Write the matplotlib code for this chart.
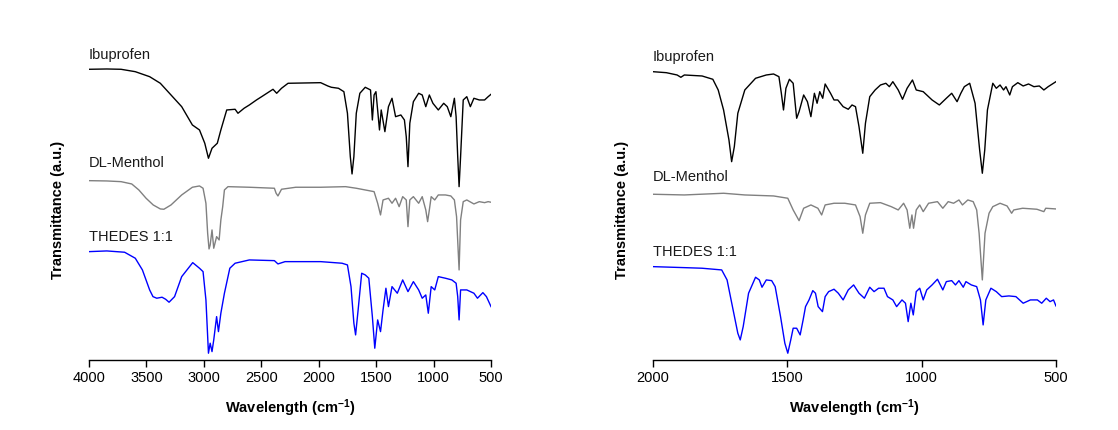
import matplotlib.pyplot as plt

plt.rcParams['font.family'] = ['Liberation Sans', 'DejaVu Sans']
plt.rcParams['mathtext.default'] = 'regular'

# ---- full range spectra (4000-500 cm-1), transmittance in a.u. (stacked) ----
ibu_full_wn = [4000, 3845, 3721, 3597, 3472, 3379, 3286, 3193, 3100, 3038, 2992, 2960, 2929, 2883,
               2852, 2801, 2728, 2703, 2650, 2604, 2542, 2497, 2398, 2366, 2324, 2267, 1983, 1921, 1890,
               1828, 1781, 1750, 1725, 1710, 1694, 1673, 1642, 1595, 1549, 1533, 1518, 1502, 1471,
               1456, 1424, 1393, 1362, 1331, 1285, 1254, 1238, 1223, 1207, 1176, 1130, 1099, 1068,
               1037, 1006, 959, 912, 881, 850, 819, 804, 790, 778, 765, 742, 711, 680, 649, 602,
               556, 525, 500]
ibu_full_t = [290.7, 291, 290.7, 288.3, 283.3, 276.7, 265, 253.3, 235, 230, 216.7, 201.7, 211.7, 216.7,
              230, 250, 250.7, 246.7, 251.7, 255, 260, 263.3, 270.7, 266.7, 271.7, 276.7, 277.3, 274, 272.7,
              271.7, 268.3, 246.7, 203.3, 186, 203.3, 246.7, 266.7, 272.7, 270, 240, 265, 268.3, 230,
              250, 228.3, 253.3, 261.7, 243.3, 245, 240, 223.3, 193.3, 236.7, 258.3, 266.7, 265, 253.3,
              265, 256.7, 250, 256.7, 253.3, 243.3, 261.7, 243.3, 203.3, 173.3, 203.3, 260, 263.3, 253.3,
              261.7, 260, 260, 263.3, 265.7]

men_full_wn = [4000, 3845, 3721, 3628, 3566, 3503, 3441, 3379, 3348, 3286, 3193, 3100, 3038, 3007,
               2982, 2967, 2955, 2945, 2929, 2914, 2889, 2867, 2852, 2836, 2821, 2790, 2604, 2386, 2371,
               2355, 2324, 2200, 1983, 1766, 1673, 1518, 1487, 1462, 1440, 1393, 1362, 1331, 1300,
               1269, 1238, 1223, 1207, 1176, 1130, 1099, 1068, 1052, 1037, 1021, 990, 959, 897, 850,
               819, 800, 778, 765, 742, 711, 649, 602, 556, 525, 500]
men_full_t = [179.3, 179, 178.3, 176, 170, 161.7, 155, 151, 150.7, 155, 165, 172.7, 174, 171.7,
              156.7, 126.7, 111, 115, 130, 111.7, 123.3, 120, 140, 153.3, 170, 173.3, 172.7, 171.7, 166.7,
              164, 170.7, 172.7, 172.7, 173.3, 171.7, 168.3, 156.7, 145, 160, 161.7, 156.7, 161.7, 153.3,
              163.3, 160, 133.3, 160, 163.3, 156.7, 163.3, 150, 138.3, 150, 163.3, 160, 165, 165, 164,
              160, 143.3, 90, 140, 158.3, 160, 156, 158.3, 157.3, 158.3, 157.7]

thd_full_wn = [4000, 3845, 3690, 3597, 3535, 3472, 3443, 3410, 3364, 3333, 3303, 3255, 3193, 3097, 3038,
               3007, 2982, 2960, 2945, 2929, 2914, 2889, 2873, 2852, 2821, 2774, 2728, 2604, 2386,
               2355, 2293, 1983, 1797, 1750, 1719, 1694, 1679, 1657, 1626, 1595, 1564, 1533, 1512,
               1487, 1462, 1440, 1415, 1393, 1362, 1316, 1269, 1223, 1176, 1130, 1099, 1068, 1046,
               1021, 990, 959, 897, 841, 804, 790, 778, 765, 711, 649, 618, 571, 540, 500]
thd_full_t = [108.3, 109, 107.7, 101.7, 90, 70, 63.3, 61.7, 62.7, 60.7, 57.7, 63.3, 83.3, 97.3, 91.7,
              88.3, 60, 6.7, 16.7, 8.3, 20, 43.3, 28.3, 46.7, 66.7, 91.7, 96.7, 100, 99.3,
              96, 98.3, 98.3, 96.7, 95, 73.3, 36.7, 25, 50, 86.7, 85, 81.7, 43.3, 11.7,
              40, 28.3, 50, 71.7, 53.3, 73.3, 66.7, 80, 68.3, 78.3, 70, 61.7, 65, 46.7,
              73.3, 70, 83.3, 81.7, 80, 76.7, 63.3, 40, 70, 70, 66.7, 61.7, 67.3, 63.3, 53.3]

# ---- fingerprint region spectra (2000-500 cm-1) ----
ibu_fp_wn = [2000, 1950, 1910, 1896, 1883, 1817, 1777, 1757, 1737, 1717, 1707, 1697, 1684, 1658,
             1618, 1578, 1551, 1531, 1522, 1514, 1505, 1492, 1478, 1465, 1456, 1439, 1425, 1412,
             1399, 1389, 1379, 1368, 1359, 1339, 1326, 1312, 1292, 1273, 1259, 1246, 1233, 1219,
             1209, 1193, 1173, 1153, 1133, 1120, 1107, 1087, 1071, 1054, 1034, 1020, 994, 961,
             934, 908, 888, 868, 854, 841, 821, 801, 784, 774, 765, 755, 735, 722, 708, 695,
             686, 672, 662, 642, 622, 602, 582, 562, 545, 529, 500]
ibu_fp_t = [288.3, 287.3, 285, 282.7, 285, 284, 280.7, 270, 250, 220, 198.3, 213.3, 246.7, 270,
            281.7, 285, 286, 283.3, 266.7, 250, 271.7, 280.7, 276.7, 241.7, 248.3, 265, 258.3, 243.3,
            266.7, 256.7, 268.3, 261.7, 276, 266.7, 260, 260, 253.3, 250.7, 255, 253.3, 233.3, 206.7,
            236.7, 263.3, 270, 275, 276.7, 273.3, 278.3, 270, 260.7, 271.7, 280, 270, 268.3, 260,
            255, 261.7, 266.7, 258.3, 266.7, 273.3, 276.7, 256.7, 210, 186.7, 210, 250, 276.7, 271.7,
            275, 270, 273.3, 265, 273.3, 277.3, 274, 276, 273.3, 274, 270, 273.3, 278.3]

men_fp_wn = [2000, 1883, 1737, 1658, 1551, 1498, 1478, 1456, 1439, 1412, 1386, 1372, 1359, 1326,
             1286, 1246, 1229, 1219, 1209, 1193, 1153, 1113, 1087, 1067, 1054, 1044, 1036, 1030,
             1020, 1007, 994, 974, 941, 921, 901, 881, 861, 848, 828, 808, 795, 786, 774, 764,
             749, 735, 708, 682, 665, 657, 624, 571, 545, 538, 500]
men_fp_t = [165.7, 165, 166.7, 165, 164, 161.7, 150, 139.3, 151.7, 155, 151.7, 145, 155, 156.7,
            156.7, 155, 143.3, 126.7, 145, 156.7, 157.3, 153.3, 150, 156.7, 150, 131.7, 145, 131.7,
            150, 155, 148.3, 156.7, 158.3, 151.7, 158.3, 156.7, 160, 155, 160, 158.3, 150, 126.7, 80, 126.7,
            146.7, 153.3, 156.7, 154, 146.7, 150, 151.7, 150.7, 148.3, 151.7, 151]

thd_fp_wn = [2000, 1883, 1817, 1744, 1724, 1704, 1684, 1675, 1664, 1644, 1618, 1604, 1594, 1578,
             1558, 1545, 1525, 1509, 1498, 1487, 1478, 1465, 1452, 1441, 1432, 1419, 1405, 1395,
             1385, 1369, 1359, 1346, 1326, 1310, 1292, 1273, 1253, 1233, 1213, 1193, 1177, 1160,
             1140, 1127, 1107, 1093, 1073, 1060, 1050, 1040, 1031, 1020, 1007, 994, 981, 961, 941,
             921, 908, 888, 874, 861, 845, 835, 815, 795, 781, 771, 761, 742, 722, 702, 675, 649,
             622, 595, 569, 553, 536, 522, 509, 500]
thd_fp_t = [93.3, 92.3, 91.7, 90, 80, 53.3, 26.7, 20, 33.3, 66.7, 82.7, 80, 72.7, 80,
            79.3, 73.3, 43.3, 16.7, 6.7, 20, 31.7, 31.7, 25, 40, 53.3, 60, 69.3, 66.7,
            53.3, 48.3, 63.3, 68.3, 70.7, 66.7, 60, 70, 75, 66.7, 61.7, 72.7, 68.3, 71.7,
            71.7, 63.3, 60, 53.3, 60, 56.7, 38.3, 56.7, 45, 68.3, 71.7, 60, 70, 75, 80.7,
            70, 78.3, 79.3, 75, 79.3, 72.7, 78.3, 75, 73.3, 60, 35, 60, 71.7, 68.3, 63.3, 64, 63.3,
            56.7, 60, 60, 56.7, 61.7, 58.3, 60, 54]

names = ['Ibuprofen', 'DL-Menthol', 'THEDES 1:1']
colors = ['black', 'gray', 'blue']

full_ticks = [4000, 3500, 3000, 2500, 2000, 1500, 1000, 500]
fp_ticks = [2000, 1500, 1000, 500]

# label heights (a.u.) for each panel
full_label_y = [305, 197, 123]
fp_label_y = [303, 183, 108]

fig = plt.figure(figsize=(11.18, 4.30), dpi=100)
ax1 = fig.add_axes([0.0796, 0.163, 0.3596, 0.744])
ax2 = fig.add_axes([0.584, 0.163, 0.3605, 0.744])

panels = [
    (ax1, [(ibu_full_wn, ibu_full_t), (men_full_wn, men_full_t), (thd_full_wn, thd_full_t)],
     (4000, 500), full_ticks, full_label_y),
    (ax2, [(ibu_fp_wn, ibu_fp_t), (men_fp_wn, men_fp_t), (thd_fp_wn, thd_fp_t)],
     (2000, 500), fp_ticks, fp_label_y),
]

for ax, spectra, xlim, ticks, label_y in panels:
    for (wn, t), name, c, ly in zip(spectra, names, colors, label_y):
        ax.plot(wn, t, color=c, lw=1.0)
        ax.text(xlim[0], ly, name, fontsize=10.5, color='#1a1a1a', ha='left', va='center')
    ax.set_xlim(xlim)
    ax.set_ylim(0, 320)
    ax.set_xticks(ticks)
    ax.set_yticks([])
    for s in ['top', 'right', 'left']:
        ax.spines[s].set_visible(False)
    ax.spines['bottom'].set_linewidth(1.0)
    ax.tick_params(axis='x', direction='out', length=5, width=1, labelsize=10.5, pad=3)
    ax.set_xlabel('Wavelength (cm$^{-1}$)', fontsize=10.5, fontweight='bold')
    ax.xaxis.set_label_coords(0.5, -0.118)
    ax.set_ylabel('Transmittance (a.u.)', fontsize=10.5, fontweight='bold')
    ax.yaxis.set_label_coords(-0.06, 0.47)

fig.savefig('out.png', dpi=100)
